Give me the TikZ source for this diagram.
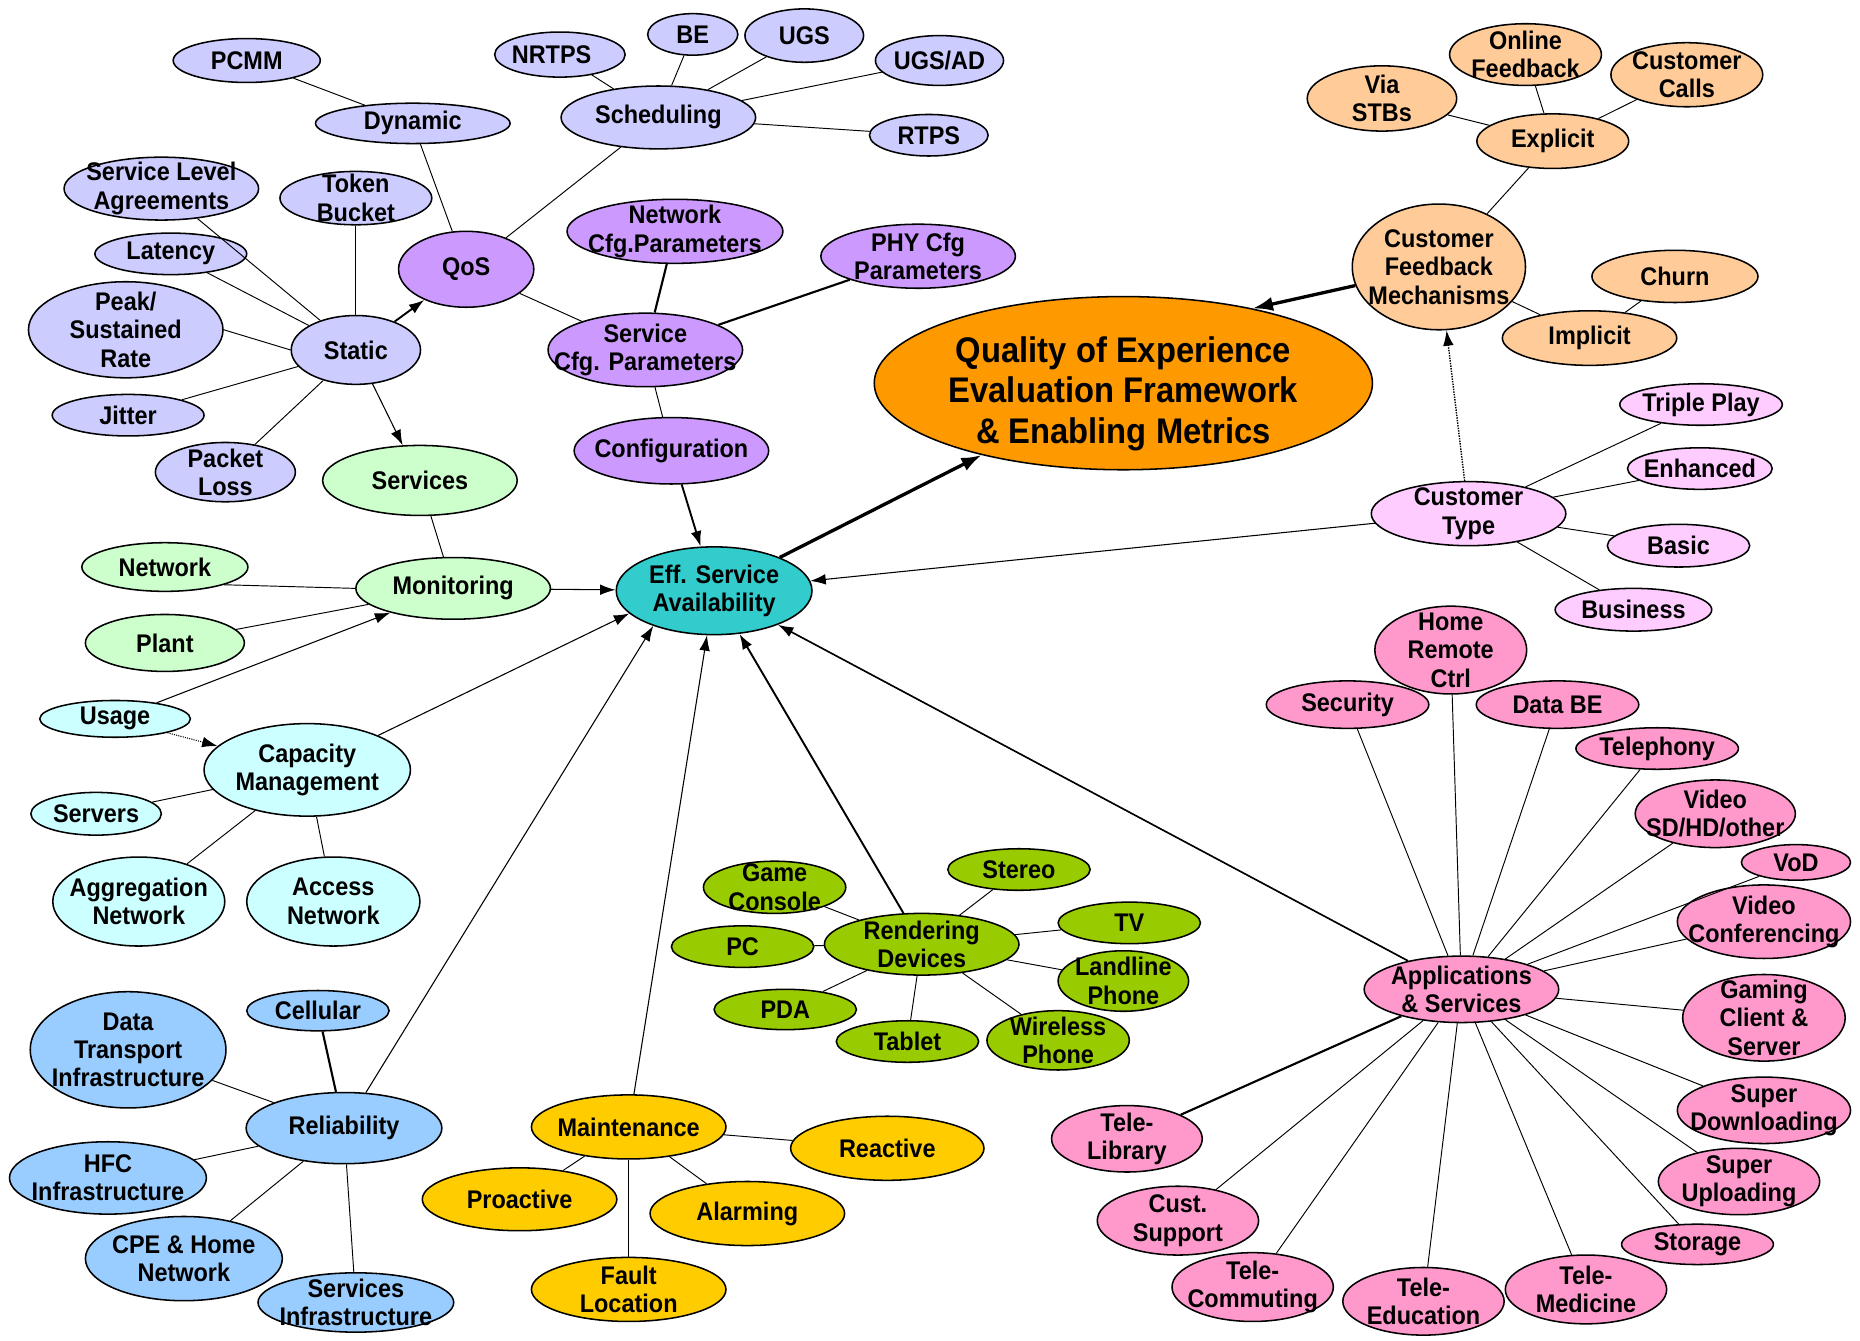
\documentclass[tikz,border=0pt]{standalone}
\usepackage{fontspec}
\setmainfont{Liberation Sans}[FakeStretch=0.92]
\usetikzlibrary{shapes.geometric,arrows.meta}

\definecolor{clav}{HTML}{CCCCFF}
\definecolor{cpur}{HTML}{CC99FF}
\definecolor{corange}{HTML}{FF9900}
\definecolor{cteal}{HTML}{33CCCC}
\definecolor{cpeach}{HTML}{FFCC99}
\definecolor{cltpink}{HTML}{FFCCFF}
\definecolor{cpink}{HTML}{FF99CC}
\definecolor{cltgreen}{HTML}{CCFFCC}
\definecolor{cltcyan}{HTML}{CCFFFF}
\definecolor{cgreen}{HTML}{99CC00}
\definecolor{cblue}{HTML}{99CCFF}
\definecolor{cgold}{HTML}{FFCC00}

\tikzset{
  bub/.style={ellipse, draw=black, line width=1.3pt, inner sep=0pt},
  sz/.style 2 args={minimum width=#1, minimum height=#2},
  every label/.style={align=center, inner sep=0pt, font=\bfseries\fontsize{21.5}{24}\selectfont},
  lnk/.style={line width=0.8pt},
  mid/.style={line width=1.8pt},
  arr/.style={-{Latex[length=13pt,width=9pt]}, line width=0.9pt},
  bigarr/.style={-{Latex[length=17pt,width=12pt]}, line width=2.8pt}
}

\begin{document}
\begin{tikzpicture}[x=1pt, y=-1pt]
\useasboundingbox (0,0) rectangle (1568,1130);

% QoS branch
\node[bub, fill=clav, sz={124}{37}, label=center:PCMM] (pcmm) at (208,51) {};
\node[bub, fill=clav, sz={164}{34}, label=center:Dynamic] (dyn) at (348,104) {};
\node[bub, fill=clav, sz={164}{53}, label=center:{Service Level\\Agreements}] (sla) at (136,159) {};
\node[bub, fill=clav, sz={128}{45}, label=center:{Token\\Bucket}] (token) at (300,167) {};
\node[bub, fill=clav, sz={128}{35}, label=center:Latency] (lat) at (144,214) {};
\node[bub, fill=clav, sz={164}{81}, label=center:{Peak/\\Sustained\\Rate}] (peak) at (106,278) {};
\node[bub, fill=clav, sz={109}{58}, label=center:Static] (static) at (300,295) {};
\node[bub, fill=clav, sz={128}{35}, label=center:Jitter] (jit) at (108,350) {};
\node[bub, fill=clav, sz={118}{50}, label=center:{Packet\\Loss}] (loss) at (190,398) {};
\node[bub, fill=cpur, sz={114}{64}, label=center:QoS] (qos) at (393,227) {};
\node[bub, fill=clav, sz={110}{38}, label={[xshift=-7pt]center:NRTPS}] (nrtps) at (472,46) {};
\node[bub, fill=clav, sz={76}{35}, label=center:BE] (be) at (584,29) {};
\node[bub, fill=clav, sz={100}{45}, label=center:UGS] (ugs) at (678,30) {};
\node[bub, fill=clav, sz={108}{42}, label=center:UGS/AD] (ugsad) at (792,51) {};
\node[bub, fill=clav, sz={164}{53}, label=center:Scheduling] (sched) at (555,99) {};
\node[bub, fill=clav, sz={100}{35}, label=center:RTPS] (rtps) at (783,114) {};
\node[bub, fill=cpur, sz={182}{54}, label=center:{Network\\Cfg.Parameters}] (netcfg) at (569,195) {};
\node[bub, fill=cpur, sz={164}{54}, label=center:{PHY Cfg\\Parameters}] (phycfg) at (774,216) {};
\node[bub, fill=cpur, sz={164}{62}, label=center:{Service\\Cfg. Parameters}] (svccfg) at (544,295) {};
\node[bub, fill=cpur, sz={164}{56}, label=center:Configuration] (config) at (566,380) {};

% centre
\node[bub, fill=corange, sz={420}{146}, label={[font=\bfseries\fontsize{30}{34}\selectfont, yshift=-9pt]center:{Quality of Experience\\Evaluation Framework\\\& Enabling Metrics}}] (qoe) at (947,323) {};
\node[bub, fill=cteal, sz={165}{74}, label=center:{Eff. Service\\Availability}] (eff) at (602,498) {};

% feedback
\node[bub, fill=cpeach, sz={126}{55}, label=center:{Via\\STBs}] (stb) at (1165,83) {};
\node[bub, fill=cpeach, sz={128}{52}, label=center:{Online\\Feedback}] (online) at (1286,46) {};
\node[bub, fill=cpeach, sz={128}{54}, label=center:{Customer\\Calls}] (calls) at (1422,63) {};
\node[bub, fill=cpeach, sz={128}{46}, label=center:Explicit] (expl) at (1309,119) {};
\node[bub, fill=cpeach, sz={146}{106}, label=center:{Customer\\Feedback\\Mechanisms}] (cfm) at (1213,225) {};
\node[bub, fill=cpeach, sz={140}{44}, label=center:Churn] (churn) at (1412,233) {};
\node[bub, fill=cpeach, sz={147}{46}, label=center:Implicit] (impl) at (1340,285) {};

% customer type
\node[bub, fill=cltpink, sz={137}{35}, label=center:Triple Play] (triple) at (1434,341) {};
\node[bub, fill=cltpink, sz={122}{35}, label=center:Enhanced] (enh) at (1433,395) {};
\node[bub, fill=cltpink, sz={164}{54}, label=center:{Customer\\Type}] (ctype) at (1238,433) {};
\node[bub, fill=cltpink, sz={120}{36}, label=center:Basic] (basic) at (1415,460) {};
\node[bub, fill=cltpink, sz={132}{36}, label=center:Business] (busi) at (1377,514) {};

% applications
\node[bub, fill=cpink, sz={128}{74}, label=center:{Home\\Remote\\Ctrl}] (home) at (1223,548) {};
\node[bub, fill=cpink, sz={137}{40}, label=center:Security] (secu) at (1136,594) {};
\node[bub, fill=cpink, sz={137}{40}, label=center:Data BE] (databe) at (1313,594) {};
\node[bub, fill=cpink, sz={137}{35}, label=center:Telephony] (tel) at (1397,631) {};
\node[bub, fill=cpink, sz={135}{57}, label=center:{Video\\SD/HD/other}] (video) at (1446,686) {};
\node[bub, fill=cpink, sz={92}{30}, label=center:VoD] (vod) at (1514,727) {};
\node[bub, fill=cpink, sz={146}{62}, label=center:{Video\\Conferencing}] (vconf) at (1487,777) {};
\node[bub, fill=cpink, sz={164}{56}, label=center:{Applications\\\& Services}] (apps) at (1232,834) {};
\node[bub, fill=cpink, sz={137}{73}, label=center:{Gaming\\Client \&\\Server}] (gaming) at (1487,858) {};
\node[bub, fill=cpink, sz={146}{56}, label=center:{Super\\Downloading}] (sdown) at (1487,936) {};
\node[bub, fill=cpink, sz={136}{56}, label=center:{Super\\Uploading}] (sup) at (1466,996) {};
\node[bub, fill=cpink, sz={128}{34}, label=center:Storage] (stor) at (1431,1049) {};
\node[bub, fill=cpink, sz={136}{58}, label=center:{Tele-\\Medicine}] (tmed) at (1337,1087) {};
\node[bub, fill=cpink, sz={136}{57}, label=center:{Tele-\\Education}] (tedu) at (1200,1097) {};
\node[bub, fill=cpink, sz={136}{58}, label=center:{Tele-\\Commuting}] (tcom) at (1056,1085) {};
\node[bub, fill=cpink, sz={136}{58}, label=center:{Cust.\\Support}] (cust) at (993,1029) {};
\node[bub, fill=cpink, sz={127}{56}, label=center:{Tele-\\Library}] (tlib) at (950,960) {};

% rendering devices
\node[bub, fill=cgreen, sz={120}{44}, label=center:{Game\\Console}] (game) at (653,748) {};
\node[bub, fill=cgreen, sz={120}{35}, label=center:Stereo] (stereo) at (859,733) {};
\node[bub, fill=cgreen, sz={120}{35}, label=center:PC] (pc) at (626,798) {};
\node[bub, fill=cgreen, sz={164}{52}, label=center:{Rendering\\Devices}] (rend) at (777,796) {};
\node[bub, fill=cgreen, sz={120}{35}, label=center:TV] (tv) at (952,778) {};
\node[bub, fill=cgreen, sz={110}{51}, label=center:{Landline\\Phone}] (land) at (947,827) {};
\node[bub, fill=cgreen, sz={120}{34}, label=center:PDA] (pda) at (662,851) {};
\node[bub, fill=cgreen, sz={120}{35}, label=center:Tablet] (tab) at (765,878) {};
\node[bub, fill=cgreen, sz={120}{50}, label=center:{Wireless\\Phone}] (wphone) at (892,877) {};

% monitoring and capacity
\node[bub, fill=cltgreen, sz={164}{59}, label=center:Services] (svcs) at (354,405) {};
\node[bub, fill=cltgreen, sz={140}{41}, label=center:Network] (netw) at (139,478) {};
\node[bub, fill=cltgreen, sz={164}{52}, label=center:Monitoring] (mon) at (382,496) {};
\node[bub, fill=cltgreen, sz={134}{48}, label=center:Plant] (plant) at (139,542) {};
\node[bub, fill=cltcyan, sz={127}{31}, label=center:Usage] (usage) at (97,606) {};
\node[bub, fill=cltcyan, sz={174}{78}, label=center:{Capacity\\Management}] (cap) at (259,649) {};
\node[bub, fill=cltcyan, sz={110}{36}, label=center:Servers] (serv) at (81,686) {};
\node[bub, fill=cltcyan, sz={145}{75}, label=center:{Aggregation\\Network}] (aggr) at (117,760) {};
\node[bub, fill=cltcyan, sz={146}{75}, label=center:{Access\\Network}] (acc) at (281,760) {};

% reliability
\node[bub, fill=cblue, sz={165}{98}, label=center:{Data\\Transport\\Infrastructure}] (dti) at (108,885) {};
\node[bub, fill=cblue, sz={120}{34}, label=center:Cellular] (cell) at (268,852) {};
\node[bub, fill=cblue, sz={165}{60}, label=center:Reliability] (rel) at (290,951) {};
\node[bub, fill=cblue, sz={166}{61}, label=center:{HFC\\Infrastructure}] (hfc) at (91,993) {};
\node[bub, fill=cblue, sz={166}{71}, label=center:{CPE \& Home\\Network}] (cpe) at (155,1061) {};
\node[bub, fill=cblue, sz={165}{50}, label=center:{Services\\Infrastructure}] (sinf) at (300,1098) {};

% maintenance
\node[bub, fill=cgold, sz={164}{54}, label=center:Maintenance] (maint) at (530,950) {};
\node[bub, fill=cgold, sz={163}{54}, label=center:Reactive] (react) at (748,968) {};
\node[bub, fill=cgold, sz={164}{53}, label=center:Proactive] (proact) at (438,1011) {};
\node[bub, fill=cgold, sz={164}{54}, label=center:Alarming] (alarm) at (630,1023) {};
\node[bub, fill=cgold, sz={164}{54}, label=center:{Fault\\Location}] (fault) at (530,1087) {};

% links
\draw[lnk] (pcmm) -- (dyn);
\draw[lnk] (dyn) -- (qos);
\draw[lnk] (sched) -- (qos);
\draw[lnk] (qos) -- (svccfg);
\draw[lnk] (nrtps) -- (sched);
\draw[lnk] (be) -- (sched);
\draw[lnk] (ugs) -- (sched);
\draw[lnk] (ugsad) -- (sched);
\draw[lnk] (rtps) -- (sched);
\draw[mid] (netcfg) -- (svccfg);
\draw[mid] (phycfg) -- (svccfg);
\draw[lnk] (svccfg) -- (config);
\draw[lnk] (sla) -- (static);
\draw[lnk] (token) -- (static);
\draw[lnk] (lat) -- (static);
\draw[lnk] (peak.east) -- (static.west);
\draw[lnk] (jit) -- (static);
\draw[lnk] (loss) -- (static);
\draw[arr, line width=1.6pt] (static) -- (qos);
\draw[arr] (static) -- (svcs);

\draw[lnk] (svcs) -- (mon);
\draw[lnk] (netw.south east) -- (mon.west);
\draw[lnk] (plant) -- (mon);
\draw[arr] (usage) -- (mon);
\draw[arr, densely dotted] (usage) -- (cap);
\draw[lnk] (serv) -- (cap);
\draw[lnk] (aggr) -- (cap);
\draw[lnk] (acc) -- (cap);

\draw[lnk] (dti) -- (rel);
\draw[mid] (cell) -- (rel);
\draw[lnk] (hfc) -- (rel);
\draw[lnk] (cpe) -- (rel);
\draw[lnk] (sinf) -- (rel);

\draw[lnk] (maint) -- (proact);
\draw[lnk] (maint) -- (react);
\draw[lnk] (maint) -- (alarm);
\draw[lnk] (maint) -- (fault);

\draw[lnk] (rend) -- (game);
\draw[lnk] (rend) -- (pc);
\draw[lnk] (rend) -- (pda);
\draw[lnk] (rend) -- (tab);
\draw[lnk] (rend) -- (wphone);
\draw[lnk] (rend) -- (land);
\draw[lnk] (rend) -- (tv);
\draw[lnk] (rend) -- (stereo);

\draw[lnk] (apps) -- (secu);
\draw[lnk] (apps) -- (home);
\draw[lnk] (apps) -- (databe);
\draw[lnk] (apps) -- (tel);
\draw[lnk] (apps) -- (video);
\draw[lnk] (apps) -- (vod);
\draw[lnk] (apps) -- (vconf);
\draw[lnk] (apps) -- (gaming);
\draw[lnk] (apps) -- (sdown);
\draw[lnk] (apps) -- (sup);
\draw[lnk] (apps) -- (stor);
\draw[lnk] (apps) -- (tmed);
\draw[lnk] (apps) -- (tedu);
\draw[lnk] (apps) -- (tcom);
\draw[lnk] (apps) -- (cust);
\draw[mid] (apps) -- (tlib);

\draw[lnk] (ctype) -- (triple);
\draw[lnk] (ctype) -- (enh);
\draw[lnk] (ctype) -- (basic);
\draw[lnk] (ctype) -- (busi);

\draw[lnk] (cfm) -- (expl);
\draw[lnk] (cfm) -- (impl);
\draw[lnk] (expl) -- (stb);
\draw[lnk] (expl) -- (online);
\draw[lnk] (expl) -- (calls);
\draw[lnk] (impl) -- (churn);

% arrows into availability
\draw[arr, line width=1.6pt] (config) -- (eff);
\draw[arr] (mon) -- (eff);
\draw[arr] (cap) -- (eff.-165);
\draw[arr] (rel) -- (eff.-150);
\draw[arr] (maint) -- (eff);
\draw[arr, line width=1.6pt] (rend) -- (eff);
\draw[arr, line width=1.4pt] (apps) -- (eff);
\draw[arr] (ctype) -- (eff);
\draw[arr, line width=1.2pt, densely dotted] (ctype) -- (cfm);
\draw[bigarr] (eff) -- (qoe);
\draw[bigarr] (cfm) -- (qoe.30);
\end{tikzpicture}
\end{document}
